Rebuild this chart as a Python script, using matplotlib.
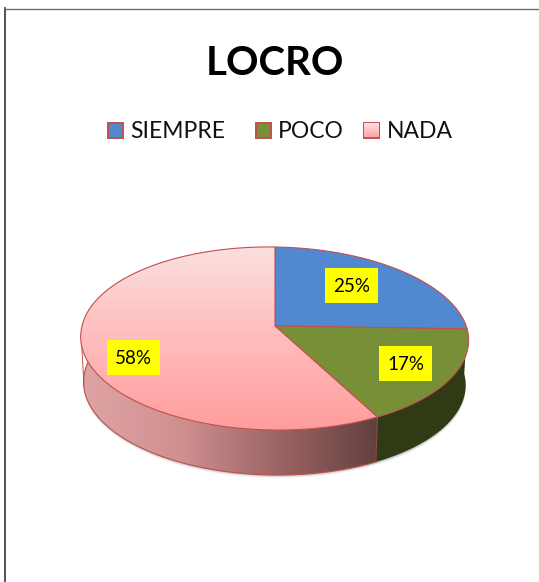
import numpy as np
import matplotlib
matplotlib.use("Agg")
import matplotlib.pyplot as plt
from matplotlib.colors import LinearSegmentedColormap
from matplotlib.patches import Polygon, Rectangle

plt.rcParams['font.family'] = ['Lato', 'DejaVu Sans']

title = "LOCRO"
categories = ["SIEMPRE", "POCO", "NADA"]
values = [25, 17, 58]

# page pixels
W, H = 539, 582
cx, cy = 275, 326
a, b, k = 89.8, 192.2, 0.1366
depth = 45
EDGE = "#c0504d"


def rim(t):
    # t in fraction of the pie, clockwise from 12 o'clock, with a bit of perspective
    t = np.asarray(t) * 2 * np.pi
    u, v = np.sin(t), np.cos(t)
    d = 1 + k * v
    x = cx + b * u / d
    y = cy - a * v / d
    # the original is slightly skewed
    y = y + 0.015 * (x - cx)
    x = x - 0.03 * np.maximum(y - cy, 0)
    return x, y


def lower(x, y):
    return cx + (x - cx) * 0.985, y + depth


def gradient(ax, poly, colors, extent, horizontal=False):
    cmap = LinearSegmentedColormap.from_list("g", colors)
    g = np.linspace(0, 1, 256)
    g = g.reshape(1, -1) if horizontal else g.reshape(-1, 1)
    im = ax.imshow(g, cmap=cmap, extent=extent, aspect="auto", origin="upper", zorder=poly.get_zorder())
    im.set_clip_path(poly)


fig = plt.figure(figsize=(W / 100, H / 100), dpi=100)
ax = fig.add_axes([0, 0, 1, 1])
ax.set_xlim(0, W)
ax.set_ylim(H, 0)
ax.axis("off")

# frame, only top and left are visible
ax.plot([4.7, 4.7], [8, H], color="#333333", lw=1.2)
ax.plot([4.5, W], [8.5, 8.5], color="#707070", lw=1)

ax.text(274.5, 60, title, ha="center", va="center_baseline", fontsize=29, fontweight="bold", color="black")

# legend
swatch_x = [108, 256, 364]
text_x = [130, 278, 387]
for i, name in enumerate(categories):
    r = Rectangle((swatch_x[i], 122.5), 15, 15, fc="#5288d0", ec=EDGE, lw=1.4, zorder=3)
    if i == 1:
        r.set_facecolor("#779038")
    ax.add_patch(r)
    if i == 2:
        r.set_facecolor("none")
        gradient(ax, r, ["#fde4e4", "#ffa4a4"], (364, 379, 137.5, 122.5))
    ax.text(text_x[i], 130, name, va="center_baseline", fontsize=16.5, color="#111111")

fracs = np.array(values) / sum(values)
edges = np.concatenate([[0], np.cumsum(fracs)])

# soft shadow under the disc
ts = np.linspace(0, 1, 300)
sx, sy = lower(*rim(ts))
for off, al in [(3, 0.05), (2, 0.08), (1, 0.12)]:
    ax.add_patch(Polygon(np.c_[sx, sy + off], fc="black", ec="none", alpha=al, zorder=1))

# side walls, green runs a little under the pink so no seam shows
side_pink = ["#e0a4a4", "#cf9090", "#9c6464", "#62403f"]
for i in [1, 2]:
    t = np.linspace(edges[i], edges[i + 1] + (0.01 if i == 1 else 0), 200)
    x, y = rim(t)
    x2, y2 = lower(x, y)
    pts = np.r_[np.c_[x, y], np.c_[x2, y2][::-1]]
    if i == 1:
        ax.add_patch(Polygon(pts, fc="#303a14", ec="none", zorder=2))
    else:
        p = Polygon(pts, fc="none", ec="none", zorder=2.1)
        ax.add_patch(p)
        gradient(ax, p, side_pink, (82, 378, 480, 320), horizontal=True)

# front edge line of the wall
t = np.linspace(edges[2], 0.78, 150)
x, y = rim(t)
x2, y2 = lower(x, y)
ax.plot(x2, y2, color=EDGE, lw=0.8, zorder=3)
x0, y0 = rim(edges[2])
ax.plot([x0, lower(x0, y0)[0]], [y0, y0 + depth], color="#8a4a48", lw=0.8, zorder=3)
ax.plot([81.5, 84], [342, 385], color=EDGE, lw=0.7, zorder=3)

# top face
top_fill = ["#5288d0", "#779038", None]
for i in range(3):
    t = np.linspace(edges[i], edges[i + 1], 200)
    x, y = rim(t)
    pts = np.r_[[[cx, cy]], np.c_[x, y]]
    if top_fill[i]:
        ax.add_patch(Polygon(pts, fc=top_fill[i], ec=EDGE, lw=0.8, zorder=4))
    else:
        p = Polygon(pts, fc="none", ec="none", zorder=4)
        ax.add_patch(p)
        gradient(ax, p, ["#fbe0e0", "#ffbcbc", "#ff9c9c"], (75, 475, 432, 246))
        ax.add_patch(Polygon(pts, fc="none", ec=EDGE, lw=0.8, zorder=5))

# data labels
label_x = [351.5, 405.5, 133.5]
label_y = [285.5, 363.5, 357.5]
for i in range(3):
    ax.text(label_x[i], label_y[i], f"{values[i]}%", ha="center", va="center_baseline", fontsize=13.5, color="black", zorder=7)
    ax.add_patch(Rectangle((label_x[i] - 26.5, label_y[i] - 17.5), 53, 35, fc="#ffff00", ec="none", zorder=6))

ax.set_xlim(0, W)
ax.set_ylim(H, 0)
fig.savefig("out.png", dpi=100)
